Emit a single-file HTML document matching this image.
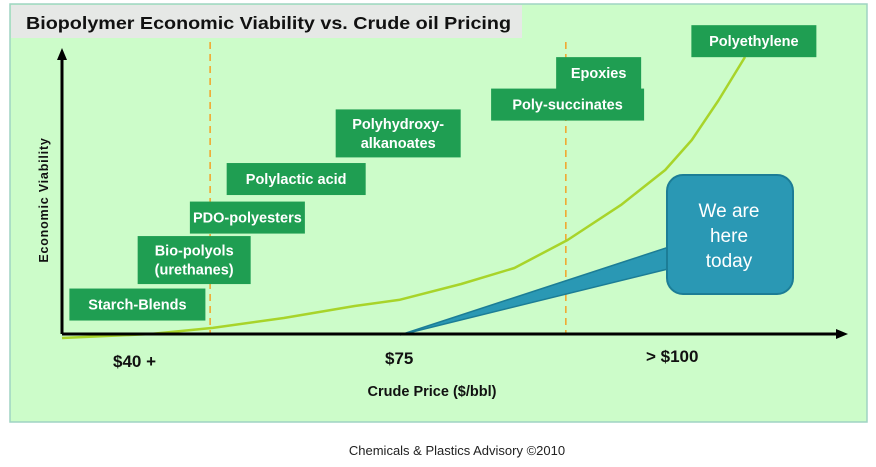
<!DOCTYPE html>
<html><head><meta charset="utf-8"><style>
body{margin:0;background:#fff;width:876px;height:462px;overflow:hidden;font-family:"Liberation Sans",sans-serif}
svg text{font-family:"Liberation Sans",sans-serif}
</style></head><body>
<svg id="chart" width="876" height="462" viewBox="0 0 876 462">
<rect x="10" y="4" width="857" height="418" fill="#ccfcc9" stroke="#9fd3c3" stroke-width="1.5"/>
<rect x="11" y="5" width="511" height="33" fill="#e6e8e6"/>
<text x="26" y="29" font-size="17.5" font-weight="bold" fill="#111" textLength="485" lengthAdjust="spacingAndGlyphs">Biopolymer Economic Viability vs. Crude oil Pricing</text>
<g id="marks"></g>
<line x1="62" y1="334" x2="62" y2="58" stroke="#000" stroke-width="3"/>
<polygon points="62,48 57,60 67,60" fill="#000"/>
<line x1="62" y1="334" x2="838" y2="334" stroke="#000" stroke-width="3"/>
<polygon points="848,334 836,329 836,339" fill="#000"/>
<text transform="translate(48,200) rotate(-90)" text-anchor="middle" font-size="12.5" font-weight="bold" fill="#111" letter-spacing="0.8">Economic Viability</text>
<text x="113" y="367" font-size="17" font-weight="bold" fill="#111">$40 +</text>
<text x="385" y="364" font-size="17" font-weight="bold" fill="#111">$75</text>
<text x="646" y="362" font-size="17" font-weight="bold" fill="#111">&gt; $100</text>
<text x="432" y="396" text-anchor="middle" font-size="14.5" font-weight="bold" fill="#111">Crude Price ($/bbl)</text>
<text x="457" y="455" text-anchor="middle" font-size="13" fill="#222">Chemicals &amp; Plastics Advisory ©2010</text>
</svg>
<script>
const curvePrices=[35,45,52,60,68,73,80,86,92,98,103,106,109,112];
const curveValues=[-1.2,1.2,4.9,10.9,18.2,21.9,31.6,41.3,58.3,79.5,100.8,119,143,169.4];
const dashedPrices=[51.7,91.8];
const labels=["Starch-Blends","Bio-polyols|(urethanes)","PDO-polyesters","Polylactic acid","Polyhydroxy-|alkanoates","Poly-succinates","Epoxies","Polyethylene"];
const labelPrices=[43.5,49.9,55.9,61.4,72.9,92.0,95.5,113];
const labelValues=[19.1,46.1,71.9,95.3,123,140.5,159.6,179];
const labelWidths=[136,113,115,139,125,153,85,125];
const todayPrice=73.1;
const xs=p=>62+(p-35)*(683/77);
const ys=v=>336-v*(280/170);
const NS="http://www.w3.org/2000/svg";
const g=document.getElementById('marks');
function mk(t,a){const e=document.createElementNS(NS,t);for(const k in a)e.setAttribute(k,a[k]);g.appendChild(e);return e;}
dashedPrices.forEach((p,i)=>{
 const l=mk('line',{x1:xs(p),y1:42,x2:xs(p),y2:333,stroke:'#f0a830','stroke-width':1.6,'stroke-dasharray':'7,5'});
 
 
});
const pts=curvePrices.map((p,i)=>xs(p).toFixed(1)+','+ys(curveValues[i]).toFixed(1));
const c=mk('polyline',{points:pts.join(' '),fill:'none',stroke:'#a8d42a','stroke-width':2.5,'stroke-linejoin':'round'});


// callout
const tx=xs(todayPrice),ty=335;
const tail=mk('polygon',{points:`${tx},${ty} 672,246 672,268`,fill:'#2a98b4',stroke:'#1c7d96','stroke-width':1.5});


const cb=mk('rect',{x:667,y:175,width:126,height:119,rx:16,fill:'#2a98b4',stroke:'#1c7d96','stroke-width':2});


["We are","here","today"].forEach((s,j)=>{
 const t=mk('text',{x:729,y:217+j*25,'text-anchor':'middle','font-size':19,fill:'#fff'});
 t.textContent=s;
 
 
});
labels.forEach((lab,i)=>{
 const lines=lab.split('|');const h=lines.length>1?48:32;const w=labelWidths[i];
 const cx=xs(labelPrices[i]),cy=ys(labelValues[i]);
 const r=mk('rect',{x:cx-w/2,y:cy-h/2,width:w,height:h,fill:'#1f9e52'});
 
 
 lines.forEach((ln,j)=>{
  const t=mk('text',{x:cx,y:cy+5+(j-(lines.length-1)/2)*19,'text-anchor':'middle','font-size':14.5,'font-weight':'bold',fill:'#fff'});
  t.textContent=ln;
  
  
 });
});
</script>
</body></html>
